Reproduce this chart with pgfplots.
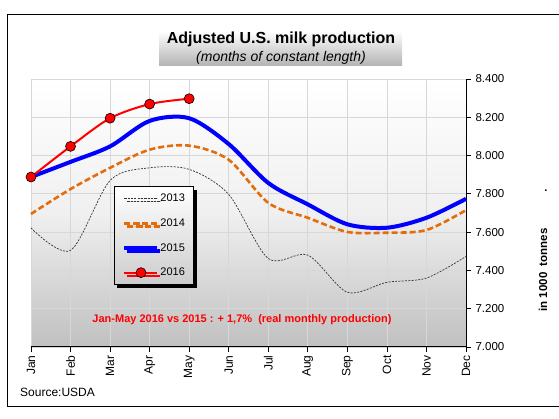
\documentclass[border=0pt]{standalone}
\usepackage{pgfplots}
\pgfplotsset{compat=1.18}
\usepackage{fontspec}
\setmainfont{Liberation Sans}
\usetikzlibrary{shadows}
\definecolor{orange14}{RGB}{228,108,10}
\definecolor{blue15}{RGB}{0,0,255}
\definecolor{red16}{RGB}{255,0,0}
\definecolor{gridc}{RGB}{215,215,215}
\definecolor{bgbot}{RGB}{192,192,192}
\begin{document}
\begin{tikzpicture}[x=1pt,y=1pt]
\useasboundingbox (0,0) rectangle (559,419);
\begin{scope}
\clip (0,0) rectangle (559,419);
\draw[line width=1pt] (7,12) rectangle (600,404);
\end{scope}
% title box
\shade[top color=white, bottom color=gray!60] (159,353) rectangle (402,388);
\node[font=\fontsize{16}{18}\selectfont\bfseries] at (281,379.5) {Adjusted U.S. milk production};
\node[font=\fontsize{14}{16}\selectfont\itshape] at (281,361.5) {(months of constant length)};
% plot background
\shade[top color=white, bottom color=bgbot, middle color=gray!12] (31,72) rectangle (466,340);
\begin{axis}[at={(31pt,72pt)}, anchor=south west, scale only axis,
  width=435pt, height=268pt,
  xmin=0, xmax=11, ymin=7000, ymax=8400,
  xtick={0,...,11},
  xticklabels={Jan,Feb,Mar,Apr,May,Jun,Jul,Aug,Sep,Oct,Nov,Dec},
  ytick={7000,7200,...,8400},
  axis x line*=bottom, axis y line*=right,
  axis line style={line width=1pt, black, -},
  tick align=outside, major tick length=5pt,
  tick style={black, line width=0.8pt},
  grid=major, major grid style={gridc, line width=0.8pt},
  xticklabel style={rotate=90, anchor=east, font=\fontsize{12}{13}\selectfont},
  yticklabel style={font=\fontsize{11.5}{12}\selectfont, xshift=1pt},
  /pgf/number format/assume math mode=true,
  /pgf/number format/1000 sep={.},
  clip=false,
  legend image code/.code={\draw[mark repeat=2,mark phase=2,#1] plot coordinates {(0pt,0pt) (16.5pt,0pt) (33pt,0pt)};},
  legend cell align=left,
  legend style={at={(0.1908,0.6007)}, anchor=north west,
    draw=black, line width=1pt, top color=white, bottom color=gray!40,
    drop shadow={shadow xshift=3pt, shadow yshift=-3pt, fill=black, opacity=1},
    font=\fontsize{11}{12}\selectfont,
    row sep=13.5pt, inner xsep=8pt, inner ysep=6.5pt,
    nodes={inner sep=1pt}},
]
\addplot[color=black!80, line width=0.7pt, dash pattern=on 2pt off 1.3pt, smooth, tension=0.5]
 coordinates {(0,7622) (1,7505) (2,7870) (3,7936) (4,7928) (5,7797) (6,7462) (7,7480) (8,7286) (9,7338) (10,7360) (11,7473)};
\addlegendentry{2013}
\addplot[color=orange14, line width=2.6pt, dash pattern=on 6pt off 3pt, smooth, tension=0.5]
 coordinates {(0,7695) (1,7825) (2,7936) (3,8031) (4,8052) (5,7978) (6,7753) (7,7675) (8,7601) (9,7597) (10,7611) (11,7715)};
\addlegendentry{2014}
\addplot[color=blue15, line width=4pt, smooth, tension=0.5]
 coordinates {(0,7888) (1,7967) (2,8048) (3,8181) (4,8195) (5,8060) (6,7857) (7,7745) (8,7641) (9,7623) (10,7675) (11,7774)};
\addlegendentry{2015}
\addplot[color=red16, line width=2pt, smooth, tension=0.5, mark=*, mark size=5pt,
  mark options={fill=red16, draw=black, line width=0.6pt, solid}]
 coordinates {(0,7888) (1,8048) (2,8195) (3,8269) (4,8297)};
\addlegendentry{2016}
\end{axis}
\node[font=\fontsize{11}{13}\selectfont\bfseries, text=red16] at (242,99)
  {Jan-May 2016 vs 2015 : + 1,7\%\ \ (real monthly production)};
\node[anchor=west, font=\fontsize{12}{14}\selectfont, inner sep=0pt] at (20,27) {Source:USDA};
\node[rotate=90, font=\fontsize{11.5}{13}\selectfont\bfseries] at (543,149) {in 1000\ \ tonnes};
\node[font=\fontsize{11}{12}\selectfont\bfseries] at (546,228) {.};
\end{tikzpicture}
\end{document}
